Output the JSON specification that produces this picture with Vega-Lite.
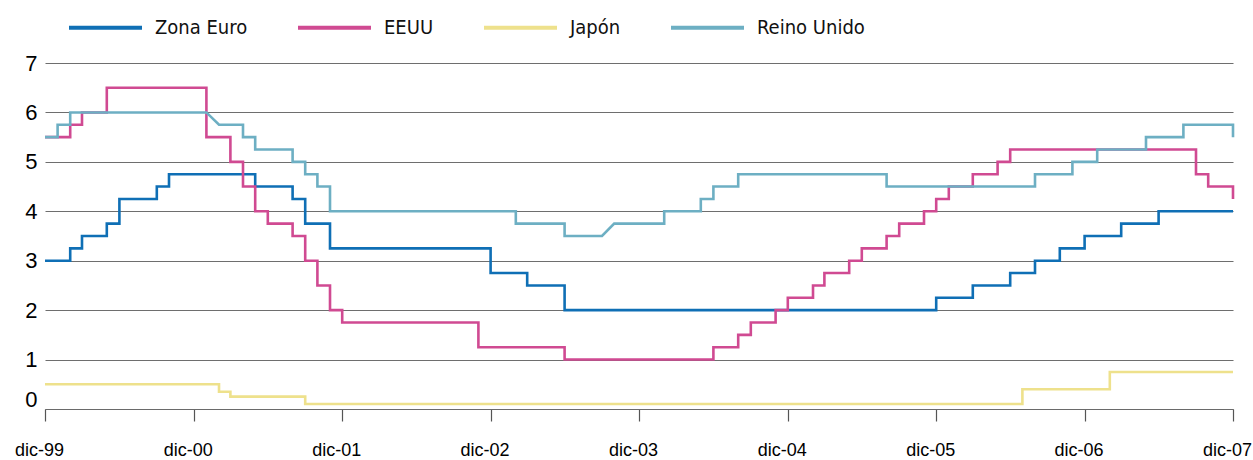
{
  "$schema": "https://vega.github.io/schema/vega-lite/v6.json",
  "width": 1188,
  "height": 346,
  "autosize": {"type": "none"},
  "padding": {"left": 45, "top": 63, "right": 20, "bottom": 51},
  "background": "white",
  "config": {"view": {"stroke": null}, "font": "Liberation Sans"},
  "data": {"values": [
    {"s":"Zona Euro","d":"1999-12-01","v":3.0,"n":1},
    {"s":"Zona Euro","d":"2000-02-01","v":3.0,"n":2},
    {"s":"Zona Euro","d":"2000-02-01","v":3.25,"n":3},
    {"s":"Zona Euro","d":"2000-03-01","v":3.25,"n":4},
    {"s":"Zona Euro","d":"2000-03-01","v":3.5,"n":5},
    {"s":"Zona Euro","d":"2000-05-01","v":3.5,"n":6},
    {"s":"Zona Euro","d":"2000-05-01","v":3.75,"n":7},
    {"s":"Zona Euro","d":"2000-06-01","v":3.75,"n":8},
    {"s":"Zona Euro","d":"2000-06-01","v":4.25,"n":9},
    {"s":"Zona Euro","d":"2000-09-01","v":4.25,"n":10},
    {"s":"Zona Euro","d":"2000-09-01","v":4.5,"n":11},
    {"s":"Zona Euro","d":"2000-10-01","v":4.5,"n":12},
    {"s":"Zona Euro","d":"2000-10-01","v":4.75,"n":13},
    {"s":"Zona Euro","d":"2001-05-01","v":4.75,"n":14},
    {"s":"Zona Euro","d":"2001-05-01","v":4.5,"n":15},
    {"s":"Zona Euro","d":"2001-08-01","v":4.5,"n":16},
    {"s":"Zona Euro","d":"2001-08-01","v":4.25,"n":17},
    {"s":"Zona Euro","d":"2001-09-01","v":4.25,"n":18},
    {"s":"Zona Euro","d":"2001-09-01","v":3.75,"n":19},
    {"s":"Zona Euro","d":"2001-11-01","v":3.75,"n":20},
    {"s":"Zona Euro","d":"2001-11-01","v":3.25,"n":21},
    {"s":"Zona Euro","d":"2002-12-01","v":3.25,"n":22},
    {"s":"Zona Euro","d":"2002-12-01","v":2.75,"n":23},
    {"s":"Zona Euro","d":"2003-03-01","v":2.75,"n":24},
    {"s":"Zona Euro","d":"2003-03-01","v":2.5,"n":25},
    {"s":"Zona Euro","d":"2003-06-01","v":2.5,"n":26},
    {"s":"Zona Euro","d":"2003-06-01","v":2.0,"n":27},
    {"s":"Zona Euro","d":"2005-12-01","v":2.0,"n":28},
    {"s":"Zona Euro","d":"2005-12-01","v":2.25,"n":29},
    {"s":"Zona Euro","d":"2006-03-01","v":2.25,"n":30},
    {"s":"Zona Euro","d":"2006-03-01","v":2.5,"n":31},
    {"s":"Zona Euro","d":"2006-06-01","v":2.5,"n":32},
    {"s":"Zona Euro","d":"2006-06-01","v":2.75,"n":33},
    {"s":"Zona Euro","d":"2006-08-01","v":2.75,"n":34},
    {"s":"Zona Euro","d":"2006-08-01","v":3.0,"n":35},
    {"s":"Zona Euro","d":"2006-10-01","v":3.0,"n":36},
    {"s":"Zona Euro","d":"2006-10-01","v":3.25,"n":37},
    {"s":"Zona Euro","d":"2006-12-01","v":3.25,"n":38},
    {"s":"Zona Euro","d":"2006-12-01","v":3.5,"n":39},
    {"s":"Zona Euro","d":"2007-03-01","v":3.5,"n":40},
    {"s":"Zona Euro","d":"2007-03-01","v":3.75,"n":41},
    {"s":"Zona Euro","d":"2007-06-01","v":3.75,"n":42},
    {"s":"Zona Euro","d":"2007-06-01","v":4.0,"n":43},
    {"s":"Zona Euro","d":"2007-12-01","v":4.0,"n":44},

    {"s":"EEUU","d":"1999-12-01","v":5.5,"n":101},
    {"s":"EEUU","d":"2000-02-01","v":5.5,"n":102},
    {"s":"EEUU","d":"2000-02-01","v":5.75,"n":103},
    {"s":"EEUU","d":"2000-03-01","v":5.75,"n":104},
    {"s":"EEUU","d":"2000-03-01","v":6.0,"n":105},
    {"s":"EEUU","d":"2000-05-01","v":6.0,"n":106},
    {"s":"EEUU","d":"2000-05-01","v":6.5,"n":107},
    {"s":"EEUU","d":"2001-01-01","v":6.5,"n":108},
    {"s":"EEUU","d":"2001-01-01","v":5.5,"n":109},
    {"s":"EEUU","d":"2001-03-01","v":5.5,"n":110},
    {"s":"EEUU","d":"2001-03-01","v":5.0,"n":111},
    {"s":"EEUU","d":"2001-04-01","v":5.0,"n":112},
    {"s":"EEUU","d":"2001-04-01","v":4.5,"n":113},
    {"s":"EEUU","d":"2001-05-01","v":4.5,"n":114},
    {"s":"EEUU","d":"2001-05-01","v":4.0,"n":115},
    {"s":"EEUU","d":"2001-06-01","v":4.0,"n":116},
    {"s":"EEUU","d":"2001-06-01","v":3.75,"n":117},
    {"s":"EEUU","d":"2001-08-01","v":3.75,"n":118},
    {"s":"EEUU","d":"2001-08-01","v":3.5,"n":119},
    {"s":"EEUU","d":"2001-09-01","v":3.5,"n":120},
    {"s":"EEUU","d":"2001-09-01","v":3.0,"n":121},
    {"s":"EEUU","d":"2001-10-01","v":3.0,"n":122},
    {"s":"EEUU","d":"2001-10-01","v":2.5,"n":123},
    {"s":"EEUU","d":"2001-11-01","v":2.5,"n":124},
    {"s":"EEUU","d":"2001-11-01","v":2.0,"n":125},
    {"s":"EEUU","d":"2001-12-01","v":2.0,"n":126},
    {"s":"EEUU","d":"2001-12-01","v":1.75,"n":127},
    {"s":"EEUU","d":"2002-11-01","v":1.75,"n":128},
    {"s":"EEUU","d":"2002-11-01","v":1.25,"n":129},
    {"s":"EEUU","d":"2003-06-01","v":1.25,"n":130},
    {"s":"EEUU","d":"2003-06-01","v":1.0,"n":131},
    {"s":"EEUU","d":"2004-06-01","v":1.0,"n":132},
    {"s":"EEUU","d":"2004-06-01","v":1.25,"n":133},
    {"s":"EEUU","d":"2004-08-01","v":1.25,"n":134},
    {"s":"EEUU","d":"2004-08-01","v":1.5,"n":135},
    {"s":"EEUU","d":"2004-09-01","v":1.5,"n":136},
    {"s":"EEUU","d":"2004-09-01","v":1.75,"n":137},
    {"s":"EEUU","d":"2004-11-01","v":1.75,"n":138},
    {"s":"EEUU","d":"2004-11-01","v":2.0,"n":139},
    {"s":"EEUU","d":"2004-12-01","v":2.0,"n":140},
    {"s":"EEUU","d":"2004-12-01","v":2.25,"n":141},
    {"s":"EEUU","d":"2005-02-01","v":2.25,"n":142},
    {"s":"EEUU","d":"2005-02-01","v":2.5,"n":143},
    {"s":"EEUU","d":"2005-03-01","v":2.5,"n":144},
    {"s":"EEUU","d":"2005-03-01","v":2.75,"n":145},
    {"s":"EEUU","d":"2005-05-01","v":2.75,"n":146},
    {"s":"EEUU","d":"2005-05-01","v":3.0,"n":147},
    {"s":"EEUU","d":"2005-06-01","v":3.0,"n":148},
    {"s":"EEUU","d":"2005-06-01","v":3.25,"n":149},
    {"s":"EEUU","d":"2005-08-01","v":3.25,"n":150},
    {"s":"EEUU","d":"2005-08-01","v":3.5,"n":151},
    {"s":"EEUU","d":"2005-09-01","v":3.5,"n":152},
    {"s":"EEUU","d":"2005-09-01","v":3.75,"n":153},
    {"s":"EEUU","d":"2005-11-01","v":3.75,"n":154},
    {"s":"EEUU","d":"2005-11-01","v":4.0,"n":155},
    {"s":"EEUU","d":"2005-12-01","v":4.0,"n":156},
    {"s":"EEUU","d":"2005-12-01","v":4.25,"n":157},
    {"s":"EEUU","d":"2006-01-01","v":4.25,"n":158},
    {"s":"EEUU","d":"2006-01-01","v":4.5,"n":159},
    {"s":"EEUU","d":"2006-03-01","v":4.5,"n":160},
    {"s":"EEUU","d":"2006-03-01","v":4.75,"n":161},
    {"s":"EEUU","d":"2006-05-01","v":4.75,"n":162},
    {"s":"EEUU","d":"2006-05-01","v":5.0,"n":163},
    {"s":"EEUU","d":"2006-06-01","v":5.0,"n":164},
    {"s":"EEUU","d":"2006-06-01","v":5.25,"n":165},
    {"s":"EEUU","d":"2007-09-01","v":5.25,"n":166},
    {"s":"EEUU","d":"2007-09-01","v":4.75,"n":167},
    {"s":"EEUU","d":"2007-10-01","v":4.75,"n":168},
    {"s":"EEUU","d":"2007-10-01","v":4.5,"n":169},
    {"s":"EEUU","d":"2007-12-01","v":4.5,"n":170},
    {"s":"EEUU","d":"2007-12-01","v":4.25,"n":171},

    {"s":"Japón","d":"1999-12-01","v":0.5,"n":201},
    {"s":"Japón","d":"2001-02-01","v":0.5,"n":202},
    {"s":"Japón","d":"2001-02-01","v":0.35,"n":203},
    {"s":"Japón","d":"2001-03-01","v":0.35,"n":204},
    {"s":"Japón","d":"2001-03-01","v":0.25,"n":205},
    {"s":"Japón","d":"2001-09-01","v":0.25,"n":206},
    {"s":"Japón","d":"2001-09-01","v":0.1,"n":207},
    {"s":"Japón","d":"2006-07-01","v":0.1,"n":208},
    {"s":"Japón","d":"2006-07-01","v":0.4,"n":209},
    {"s":"Japón","d":"2007-02-01","v":0.4,"n":210},
    {"s":"Japón","d":"2007-02-01","v":0.75,"n":211},
    {"s":"Japón","d":"2007-12-01","v":0.75,"n":212},

    {"s":"Reino Unido","d":"1999-12-01","v":5.5,"n":301},
    {"s":"Reino Unido","d":"2000-01-01","v":5.5,"n":302},
    {"s":"Reino Unido","d":"2000-01-01","v":5.75,"n":303},
    {"s":"Reino Unido","d":"2000-02-01","v":5.75,"n":304},
    {"s":"Reino Unido","d":"2000-02-01","v":6.0,"n":305},
    {"s":"Reino Unido","d":"2001-01-01","v":6.0,"n":306},
    {"s":"Reino Unido","d":"2001-02-01","v":5.75,"n":307},
    {"s":"Reino Unido","d":"2001-04-01","v":5.75,"n":308},
    {"s":"Reino Unido","d":"2001-04-01","v":5.5,"n":309},
    {"s":"Reino Unido","d":"2001-05-01","v":5.5,"n":310},
    {"s":"Reino Unido","d":"2001-05-01","v":5.25,"n":311},
    {"s":"Reino Unido","d":"2001-08-01","v":5.25,"n":312},
    {"s":"Reino Unido","d":"2001-08-01","v":5.0,"n":313},
    {"s":"Reino Unido","d":"2001-09-01","v":5.0,"n":314},
    {"s":"Reino Unido","d":"2001-09-01","v":4.75,"n":315},
    {"s":"Reino Unido","d":"2001-10-01","v":4.75,"n":316},
    {"s":"Reino Unido","d":"2001-10-01","v":4.5,"n":317},
    {"s":"Reino Unido","d":"2001-11-01","v":4.5,"n":318},
    {"s":"Reino Unido","d":"2001-11-01","v":4.0,"n":319},
    {"s":"Reino Unido","d":"2003-02-01","v":4.0,"n":320},
    {"s":"Reino Unido","d":"2003-02-01","v":3.75,"n":321},
    {"s":"Reino Unido","d":"2003-06-01","v":3.75,"n":322},
    {"s":"Reino Unido","d":"2003-06-01","v":3.5,"n":323},
    {"s":"Reino Unido","d":"2003-09-01","v":3.5,"n":324},
    {"s":"Reino Unido","d":"2003-10-01","v":3.75,"n":325},
    {"s":"Reino Unido","d":"2004-02-01","v":3.75,"n":326},
    {"s":"Reino Unido","d":"2004-02-01","v":4.0,"n":327},
    {"s":"Reino Unido","d":"2004-05-01","v":4.0,"n":328},
    {"s":"Reino Unido","d":"2004-05-01","v":4.25,"n":329},
    {"s":"Reino Unido","d":"2004-06-01","v":4.25,"n":330},
    {"s":"Reino Unido","d":"2004-06-01","v":4.5,"n":331},
    {"s":"Reino Unido","d":"2004-08-01","v":4.5,"n":332},
    {"s":"Reino Unido","d":"2004-08-01","v":4.75,"n":333},
    {"s":"Reino Unido","d":"2005-08-01","v":4.75,"n":334},
    {"s":"Reino Unido","d":"2005-08-01","v":4.5,"n":335},
    {"s":"Reino Unido","d":"2006-08-01","v":4.5,"n":336},
    {"s":"Reino Unido","d":"2006-08-01","v":4.75,"n":337},
    {"s":"Reino Unido","d":"2006-11-01","v":4.75,"n":338},
    {"s":"Reino Unido","d":"2006-11-01","v":5.0,"n":339},
    {"s":"Reino Unido","d":"2007-01-01","v":5.0,"n":340},
    {"s":"Reino Unido","d":"2007-01-01","v":5.25,"n":341},
    {"s":"Reino Unido","d":"2007-05-01","v":5.25,"n":342},
    {"s":"Reino Unido","d":"2007-05-01","v":5.5,"n":343},
    {"s":"Reino Unido","d":"2007-08-01","v":5.5,"n":344},
    {"s":"Reino Unido","d":"2007-08-01","v":5.75,"n":345},
    {"s":"Reino Unido","d":"2007-12-01","v":5.75,"n":346},
    {"s":"Reino Unido","d":"2007-12-01","v":5.5,"n":347}
  ]},
  "mark": {"type": "line", "strokeWidth": 2.6, "interpolate": "linear"},
  "encoding": {
    "x": {
      "field": "d", "type": "temporal",
      "scale": {"type": "utc", "domain": [{"year": 1999, "month": 12, "date": 1, "utc": true}, {"year": 2007, "month": 12, "date": 1, "utc": true}]},
      "axis": {
        "title": null,
        "values": [
          {"year": 1999, "month": 12, "date": 1, "utc": true},
          {"year": 2000, "month": 12, "date": 1, "utc": true},
          {"year": 2001, "month": 12, "date": 1, "utc": true},
          {"year": 2002, "month": 12, "date": 1, "utc": true},
          {"year": 2003, "month": 12, "date": 1, "utc": true},
          {"year": 2004, "month": 12, "date": 1, "utc": true},
          {"year": 2005, "month": 12, "date": 1, "utc": true},
          {"year": 2006, "month": 12, "date": 1, "utc": true},
          {"year": 2007, "month": 12, "date": 1, "utc": true}
        ],
        "labelExpr": "'dic-' + utcFormat(datum.value, '%y')",
        "grid": false,
        "domainColor": "#6a6a6a",
        "domainWidth": 1.2,
        "tickColor": "#555555",
        "tickSize": 12,
        "tickWidth": 1.2,
        "labelFont": "Liberation Sans",
        "labelFontSize": 18,
        "labelColor": "#000000",
        "labelPadding": 20,
        "labelOffset": -6,
        "labelFlush": false,
        "labelOverlap": false,
        "labelBound": false
      }
    },
    "y": {
      "field": "v", "type": "quantitative",
      "scale": {"domain": [0, 7], "nice": false, "zero": true},
      "axis": {
        "title": null,
        "values": [0, 1, 2, 3, 4, 5, 6, 7],
        "grid": true,
        "gridColor": "#6e6e6e",
        "gridWidth": 1.2,
        "domain": false,
        "ticks": false,
        "labelFont": "Liberation Sans",
        "labelFontSize": 22,
        "labelColor": "#000000",
        "labelPadding": 8,
        "labelOffset": {"condition": {"test": "datum.value === 0", "value": -10}, "value": 0}
      }
    },
    "color": {
      "field": "s", "type": "nominal",
      "scale": {
        "domain": ["Zona Euro", "EEUU", "Japón", "Reino Unido"],
        "range": ["#0f6fb5", "#d04a92", "#eee18c", "#6dafc3"]
      },
      "legend": {
        "title": null,
        "orient": "none",
        "direction": "horizontal",
        "legendX": 22,
        "legendY": -74,
        "padding": 0,
        "symbolType": "stroke",
        "symbolSize": 5329,
        "symbolStrokeWidth": 4,
        "labelFont": "Liberation Sans Narrow, DejaVu Sans Condensed, Liberation Sans",
        "labelFontSize": 20,
        "labelColor": "#111111",
        "labelOffset": 11,
        "columnPadding": 42
      }
    },
    "order": {"field": "n", "type": "quantitative"}
  }
}
